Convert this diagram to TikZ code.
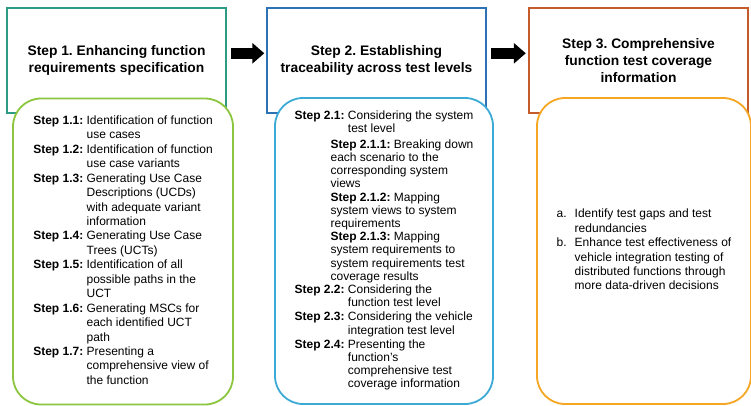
\documentclass[tikz,border=0pt]{standalone}
\usepackage{fontspec}
\setmainfont{Liberation Sans}
\usetikzlibrary{arrows.meta}
\definecolor{tealframe}{HTML}{2E9C84}
\definecolor{greenframe}{HTML}{8CC63F}
\definecolor{blueframe}{HTML}{2E72B6}
\definecolor{skyframe}{HTML}{3CAAD6}
\definecolor{rustframe}{HTML}{C55A2A}
\definecolor{orangeframe}{HTML}{F5A623}
\frenchspacing
\begin{document}
\begin{tikzpicture}[x=1pt,y=-1pt,
    titlebox/.style={draw, line width=1.4pt, align=center, minimum width=219pt, minimum height=105pt,
      font=\fontsize{13.8}{17}\selectfont\bfseries},
    listbox/.style={draw, line width=1.8pt, fill=white, rounded corners=28pt, minimum height=306pt,
      font=\fontsize{12}{14.45}\selectfont},
    blockarrow/.style={line width=11pt, -{Triangle[length=12pt,width=20pt]}}]
  \useasboundingbox (0,0) rectangle (751,406);

  % step headers
  \node[titlebox, draw=tealframe] (head1) at (116.5,60.5) {Step 1. Enhancing function\\requirements specification};
  \node[titlebox, draw=blueframe] (head2) at (376.5,60.5) {Step 2. Establishing\\traceability across test levels};
  \node[titlebox, draw=rustframe] (head3) at (638.5,60.5) {Step 3. Comprehensive\\function test coverage\\information};

  % step details
  \node[listbox, draw=greenframe, minimum width=220pt] (list1) at (123,251.5) {%
    \begin{tabular}{@{}l@{ }l@{}}
      \textbf{Step 1.1:} & Identification of function\\
       & use cases\\
      \textbf{Step 1.2:} & Identification of function\\
       & use case variants\\
      \textbf{Step 1.3:} & Generating Use Case\\
       & Descriptions (UCDs)\\
       & with adequate variant\\
       & information\\
      \textbf{Step 1.4:} & Generating Use Case\\
       & Trees (UCTs)\\
      \textbf{Step 1.5:} & Identification of all\\
       & possible paths in the\\
       & UCT\\
      \textbf{Step 1.6:} & Generating MSCs for\\
       & each identified UCT\\
       & path\\
      \textbf{Step 1.7:} & Presenting a\\
       & comprehensive view of\\
       & the function
    \end{tabular}};
  \node[listbox, draw=skyframe, minimum width=218pt, font=\fontsize{12}{13.2}\selectfont] (list2) at (384,251) {%
    \begin{tabular}{@{}l@{ }l@{}}
      \textbf{Step 2.1:} & Considering the system\\
       & test level\\[2.5pt]
      \multicolumn{2}{@{\hspace{36pt}}l@{}}{\begin{tabular}[t]{@{}l@{}}
        \textbf{Step 2.1.1:} Breaking down\\
        each scenario to the\\
        corresponding system\\
        views
      \end{tabular}}\\[2.5pt]
      \multicolumn{2}{@{\hspace{36pt}}l@{}}{\begin{tabular}[t]{@{}l@{}}
        \textbf{Step 2.1.2:} Mapping\\
        system views to system\\
        requirements
      \end{tabular}}\\[2.5pt]
      \multicolumn{2}{@{\hspace{36pt}}l@{}}{\begin{tabular}[t]{@{}l@{}}
        \textbf{Step 2.1.3:} Mapping\\
        system requirements to\\
        system requirements test\\
        coverage results
      \end{tabular}}\\[1pt]
      \textbf{Step 2.2:} & Considering the\\
       & function test level\\[1pt]
      \textbf{Step 2.3:} & Considering the vehicle\\
       & integration test level\\[1pt]
      \textbf{Step 2.4:} & Presenting the\\
       & function's\\
       & comprehensive test\\
       & coverage information
    \end{tabular}};
  \node[listbox, draw=orangeframe, minimum width=214pt, font=\fontsize{12}{14.4}\selectfont] (list3) at (644,251) {%
    \begin{tabular}{@{}p{18pt}@{}l@{}}
      a. & Identify test gaps and test\\
         & redundancies\\
      b. & Enhance test effectiveness of\\
         & vehicle integration testing of\\
         & distributed functions through\\
         & more data-driven decisions
    \end{tabular}};

  % flow between steps
  \draw[blockarrow] ([shift={(4.5pt,7.2pt)}]head1.east) -- ([shift={(-2pt,7.2pt)}]head2.west);
  \draw[blockarrow] ([shift={(4.5pt,7.2pt)}]head2.east) -- ([shift={(-2.5pt,7.2pt)}]head3.west);
\end{tikzpicture}
\end{document}
